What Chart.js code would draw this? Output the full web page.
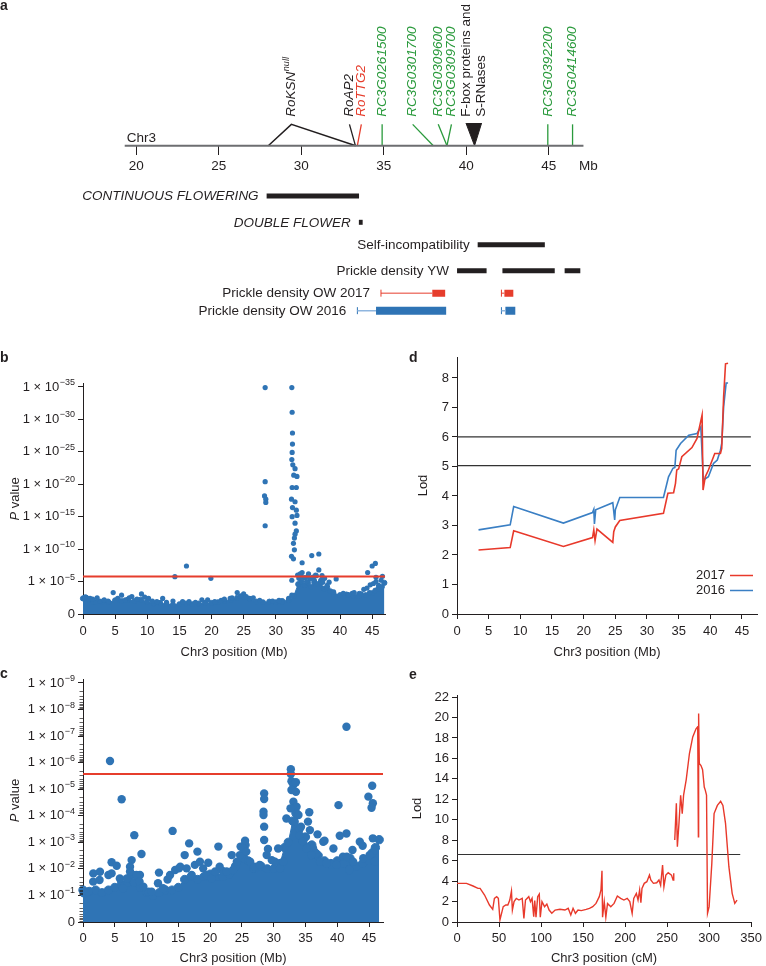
<!DOCTYPE html>
<html lang="en">
<head>
<meta charset="UTF-8" />
<title>Chr3 mapping figure</title>
<script src="https://cdn.jsdelivr.net/npm/chart.js"></script>
<style>
  body { margin: 0; background: #fff; font-family: 'Liberation Sans', Arial, sans-serif; }
  #fig { position: relative; width: 766px; height: 966px; overflow: hidden; }
  #fig canvas { position: absolute; }
  .tag { position: absolute; font-weight: bold; font-size: 14px; line-height: 14px; color: #231f20; }
</style>
</head>
<body>
<div id="fig">
  <canvas id="chartA" width="766" height="335" style="left:0;top:0"></canvas>
  <canvas id="chartB" width="390" height="325" style="left:0;top:340px"></canvas>
  <canvas id="chartC" width="390" height="301" style="left:0;top:665px"></canvas>
  <canvas id="chartD" width="386" height="325" style="left:380px;top:340px"></canvas>
  <canvas id="chartE" width="386" height="301" style="left:380px;top:665px"></canvas>
  <div class="tag" style="left:0;top:-2px">a</div>
  <div class="tag" style="left:0;top:350px">b</div>
  <div class="tag" style="left:0;top:666px">c</div>
  <div class="tag" style="left:409px;top:350px">d</div>
  <div class="tag" style="left:409px;top:667px">e</div>
</div>

<script>
const FONT = "'Liberation Sans', Arial, Helvetica, sans-serif";
const INK = '#231f20';
const BLUE = '#2f74b5';
const RED = '#e63d2c';
const GREEN = '#2a9a3c';

// ---------- panel a: physical map of Chr3 (Mb)
const mapTicks = [20, 25, 30, 35, 40, 45];
const mapUnitAt = 47.4;
const chrSpan = [19.3, 47.1];
const geneNames = ['RoAP2', 'RoTTG2', 'RC3G0261500', 'RC3G0301700', 'RC3G0309600', 'RC3G0309700', 'RC3G0392200', 'RC3G0414600'];
const geneBase = [33.28, 33.4, 34.9, 38.0, 38.83, 38.83, 44.94, 46.44];
const geneTop = [32.92, 33.64, 34.9, 36.75, 38.3, 39.1, 44.94, 46.44];
const geneColors = [INK, RED, GREEN, GREEN, GREEN, GREEN, GREEN, GREEN];
const ksnInsertion = [28.0, 29.4, 33.3];
const fboxEdges = [39.98, 40.93];
const fboxApex = 40.5;

const traitNames = ['CONTINUOUS FLOWERING', 'DOUBLE FLOWER', 'Self-incompatibility', 'Prickle density YW', 'Prickle density OW 2017', 'Prickle density OW 2016'];
const traitItalic = [true, true, false, false, false, false];
const traitBars = [
  [[27.9, 33.5]],
  [[33.49, 33.72]],
  [[40.69, 44.76]],
  [[39.44, 41.23], [42.19, 45.36], [45.96, 46.91]]
];
const ow2017Support = [[34.83, 37.94], [42.13, 42.31]];
const ow2017Core = [[37.94, 38.72], [42.31, 42.85]];
const ow2016Support = [[33.4, 34.53], [42.13, 42.37]];
const ow2016Core = [[34.53, 38.78], [42.37, 42.97]];

// ---------- panel b: GWAS, P value as -log10
const bTicks = [0, 5, 10, 15, 20, 25, 30, 35];
const mbTicks = [0, 5, 10, 15, 20, 25, 30, 35, 40, 45];
const bThreshold = 5.77;
const bBandPos = [0, 0.5, 1, 1.5, 2, 3, 4, 5, 6, 7, 8, 9, 10, 11, 12, 13, 14, 15, 16, 17, 18, 19, 20, 21, 22, 23, 24, 25, 26, 27, 28, 29, 30, 31, 32, 32.8, 33.5, 34, 34.5, 35, 35.5, 36, 36.5, 37, 37.5, 38, 38.5, 39, 40, 41, 42, 43, 44, 45, 45.5, 46, 46.5, 46.9];
const bBandLogP = [2.4, 2.5, 2.2, 1.9, 1.8, 1.9, 1.8, 2.1, 2.0, 2.2, 2.0, 2.2, 1.9, 1.6, 1.7, 1.5, 1.4, 1.5, 1.6, 1.5, 1.6, 1.7, 1.7, 1.8, 2.0, 2.2, 2.5, 2.6, 2.3, 1.9, 1.8, 1.9, 1.8, 2.0, 2.1, 2.8, 4.6, 5.0, 4.4, 4.8, 4.2, 4.9, 4.6, 4.8, 3.9, 4.1, 3.5, 3.1, 2.9, 3.0, 2.8, 3.1, 2.9, 3.2, 3.6, 3.9, 4.2, 4.8];
const bSnpPos = [28.35, 32.5, 32.55, 32.6, 32.6, 32.55, 32.5, 32.65, 33.0, 32.8, 33.3, 32.55, 33.2, 32.45, 33.0, 32.6, 33.2, 32.55, 33.3, 33.0, 33.2, 33.0, 32.9, 32.75, 32.9, 32.45, 32.75, 34.1, 35.6, 36.7, 34.1, 36.7, 32.5, 33.4,
  28.35, 28.25, 28.45, 28.45, 28.35,
  14.3, 16.1, 19.9, 39.4, 44.3, 45.0, 45.5, 45.6,
  43.7, 44.2, 44.7, 45.2, 45.6, 46.0, 46.4, 46.6,
  33.6, 34.0, 34.5, 35.0, 35.3, 35.8, 36.3, 37.2, 33.8, 35.1, 36.2, 37.0,
  4.7, 6.0, 7.6, 9.1, 10.2, 12.4, 3.9, 2.6, 18.5, 19.4, 24.0, 25.0, 22.9, 25.9, 15.5, 1.1, 31.0, 32.5, 41.9, 42.9, 0.4, 0.9, 37.6, 38.3,
  0.3, 1.5, 2.2, 3.3, 5.4, 6.6, 7.2, 8.4, 9.6, 10.8, 11.5, 13.0, 14.0, 16.5, 17.5, 20.5, 21.5, 22.0, 23.2, 24.5, 25.4, 26.5, 27.5, 29.5, 30.5, 32.0,
  39.0, 40.5, 41.3, 42.2, 43.3, 44.6, 38.0, 37.3, 36.0, 34.8];
const bSnpLogP = [34.9, 34.9, 31.1, 27.9, 26.2, 24.9, 23.8, 23.0, 22.4, 21.4, 21.2, 19.5, 19.5, 17.7, 17.3, 16.4, 16.0, 15.0, 15.2, 14.0, 12.8, 12.3, 11.7, 10.9, 9.9, 8.9, 8.5, 7.9, 9.0, 9.25, 6.4, 6.8, 5.2, 6.0,
  20.4, 18.2, 17.7, 17.2, 13.6,
  5.76, 7.4, 5.5, 5.4, 6.4, 7.4, 7.8, 5.65,
  3.8, 4.0, 4.5, 4.7, 5.0, 4.4, 5.2, 5.8,
  5.5, 5.7, 5.6, 5.8, 5.4, 5.7, 5.9, 5.9, 6.2, 6.2, 6.0, 5.2,
  3.3, 2.9, 2.7, 3.1, 2.4, 2.4, 2.0, 2.0, 2.2, 2.2, 3.3, 3.1, 2.4, 2.4, 1.9, 2.4, 1.9, 2.9, 3.2, 2.7, 2.6, 2.3, 5.5, 4.9,
  2.6, 2.3, 2.5, 2.2, 2.4, 2.2, 2.5, 2.3, 2.6, 2.0, 1.9, 1.8, 2.0, 1.9, 1.8, 1.9, 2.1, 2.3, 2.5, 2.8, 2.7, 2.5, 2.1, 2.0, 2.1, 2.4,
  3.4, 3.2, 3.0, 3.3, 3.1, 3.3, 4.4, 4.9, 5.2, 5.0];

// ---------- panel c: GWAS 2, P value as -log10
const cTicks = [0, 1, 2, 3, 4, 5, 6, 7, 8, 9];
const logMinor = [2, 3, 4, 5, 6, 7, 8, 9];
const cThreshold = 5.57;
const cBandPos = [0, 1, 2, 3, 4, 5, 6, 7, 7.6, 8, 9, 10, 11, 12, 13, 14, 15, 16, 17, 18, 19, 20, 21, 22, 23, 24, 25, 25.5, 26, 27, 28, 29, 30, 31, 31.7, 32.3, 33, 33.5, 34, 34.5, 35, 35.5, 36, 36.5, 37, 38, 39, 40, 41, 42, 43, 44, 45, 45.5, 46, 46.6];
const cBandLogP = [1.2, 1.15, 1.2, 1.1, 1.2, 1.3, 1.4, 1.5, 1.8, 1.5, 1.3, 1.1, 1.0, 1.1, 1.2, 1.2, 1.3, 1.6, 1.7, 1.6, 1.7, 1.8, 1.7, 1.7, 1.8, 2.1, 2.4, 2.9, 2.3, 2.0, 2.1, 2.0, 2.0, 2.2, 2.8, 3.0, 3.8, 4.1, 3.5, 3.1, 3.2, 2.8, 2.9, 2.6, 2.5, 2.3, 2.2, 2.3, 2.2, 2.4, 2.1, 2.2, 2.3, 2.6, 2.8, 3.1];
const cSnpPos = [4.25, 6.08, 41.45, 32.7, 32.7, 32.8, 33.1, 33.5, 32.8, 33.5, 33.1, 33.6, 32.65, 33.9, 33.3, 32.0, 34.3,
  28.5, 28.5, 28.4, 28.4, 28.5, 28.5, 45.5, 44.9, 45.6, 45.4, 40.2, 35.6, 35.4, 35.7, 36.9, 41.45, 37.8, 39.4, 40.4,
  8.07, 14.1, 9.2, 4.5, 5.3, 7.65, 1.62, 2.67, 16.7, 16.0, 18.0, 21.3, 23.4, 25.5, 24.8, 29.1, 30.7, 11.95, 13.3, 15.1,
  19.7, 21.96, 26.8, 43.55, 42.4, 38.0, 44.0, 45.6, 45.9, 36.2, 36.7, 39.1, 40.9, 41.9, 7.4, 8.96, 5.8, 10.3,
  0.16, 0.8, 1.6, 2.6, 4.0, 4.5, 6.3, 6.9, 7.4, 8.4, 8.9, 9.5, 10.8, 11.8, 12.6, 13.7, 14.5, 15.3, 16.3, 17.1, 17.6, 18.4, 18.9, 19.4, 20.2, 20.8, 21.5, 22.6, 23.6, 24.2, 24.7, 25.2, 25.7, 26.3, 27.0, 27.8, 28.9, 29.7, 30.2, 31.0, 31.5,
  34.1, 34.6, 35.2, 35.9, 37.3, 38.3, 39.9, 41.5, 42.5, 44.1, 45.1, 45.9];
const cSnpLogP = [6.06, 4.62, 7.35, 5.75, 5.57, 5.3, 5.16, 5.26, 4.97, 4.9, 4.53, 4.34, 4.28, 4.03, 3.78, 3.9, 3.59,
  4.84, 4.63, 4.15, 4.03, 3.59, 3.09, 5.13, 4.72, 4.47, 4.3, 4.4, 4.13, 3.78, 3.46, 3.3, 3.33, 3.02, 2.77, 3.25,
  3.27, 3.43, 2.56, 2.25, 2.12, 2.33, 1.83, 1.89, 2.96, 2.52, 2.65, 2.84, 2.52, 3.06, 2.84, 2.75, 2.77, 1.86, 1.6, 2.02,
  2.23, 1.92, 2.02, 3.02, 2.71, 3.06, 2.87, 3.15, 2.71, 2.77, 2.58, 2.15, 2.46, 1.96, 2.08, 1.77, 1.64, 1.14,
  1.08, 1.14, 1.52, 1.58, 1.77, 1.83, 1.27, 1.64, 1.9, 1.77, 1.52, 1.33, 1.14, 1.46, 1.27, 1.77, 1.96, 2.08, 2.02, 1.77, 2.15, 2.27, 2.02, 1.77, 1.64, 1.9, 2.08, 1.9, 1.96, 2.27, 2.52, 2.77, 2.65, 2.27, 2.08, 2.15, 2.52, 2.33, 2.27, 2.02, 2.27,
  3.27, 3.02, 2.77, 2.52, 2.27, 2.21, 2.15, 2.46, 2.27, 2.4, 2.52, 2.27];

// ---------- panel d: QTL scans (Mb)
const lodTicksD = [0, 1, 2, 3, 4, 5, 6, 7, 8];
const dThresholds = [6.0, 5.03];
const dThresholdEnd = 46.4;
const lod2017Pos = [3.4, 8.4, 8.95, 16.8, 21.4, 21.6, 21.8, 22.1, 24.6, 24.75, 25.0, 25.7, 32.6, 33.3, 34.2, 34.5, 34.7, 35.0, 35.5, 37.1, 37.9, 38.7, 38.85, 39.2, 39.7, 40.7, 41.6, 41.8, 42.1, 42.4, 42.8];
const lod2017 = [2.17, 2.25, 2.82, 2.29, 2.59, 2.85, 2.49, 2.88, 2.43, 2.79, 2.95, 3.17, 3.41, 4.09, 4.11, 4.43, 4.88, 4.92, 5.33, 5.64, 5.95, 6.74, 4.2, 4.65, 4.88, 5.44, 5.44, 5.61, 7.36, 8.48, 8.5];
const lod2016Pos = [3.4, 8.4, 8.95, 16.8, 21.4, 21.6, 21.7, 21.9, 24.6, 24.9, 25.0, 25.7, 32.6, 33.4, 34.1, 34.4, 34.6, 35.3, 36.6, 37.9, 38.5, 38.9, 39.7, 40.5, 41.1, 41.6, 41.8, 42.1, 42.5, 42.8];
const lod2016 = [2.85, 3.02, 3.64, 3.08, 3.44, 3.55, 3.05, 3.53, 3.77, 3.19, 3.53, 3.95, 3.95, 4.65, 4.94, 4.97, 5.55, 5.78, 6.06, 6.12, 6.34, 4.54, 4.65, 5.1, 5.22, 5.55, 5.78, 7.02, 7.83, 7.83];

// ---------- panel e: QTL scan (cM); null splits the two linkage blocks
const lodTicksE = [0, 2, 4, 6, 8, 10, 12, 14, 16, 18, 20, 22];
const cmTicks = [0, 50, 100, 150, 200, 250, 300, 350];
const eThreshold = 6.6;
const eThresholdEnd = 337;
const ePos = [0, 11.3, 19.1, 25.0, 27.5, 32.8, 38.6, 42.5, 44.5, 47.2, 49.2, 51.1, 55.0, 58.1, 60.5, 62.8, 64.8, 65.9, 67.9, 70.6, 73.7, 77.6, 79.6, 81.5, 85.4, 87.4, 89.3, 91.3, 92.5, 94.0, 96.0, 97.9, 99.1, 101.1, 104.2, 106.9, 109.6, 112.8, 116.7, 122.5, 128.4, 132.3, 135.4, 138.1, 140.9, 144.0, 147.9, 153.7, 157.6, 161.5, 165.4, 169.3, 171.3, 172.5, 173.2, 175.2, 177.1, 179.1, 183.0, 186.9, 190.8, 194.7, 198.6, 202.5, 205.6, 208.4, 210.3, 213.4, 215.4, 217.3, 218.8, 220.1, 222.8, 225.9, 229.0, 230.6, 233.7, 237.6, 240.3, 242.3, 244.6, 246.2, 248.5, 251.3, 255.2, 257.1, 257.9,
  258.5,
  259.1, 261.0, 262.2, 264.1, 266.1, 268.0, 269.6, 272.7, 276.6, 280.5, 284.4, 286.4, 287.2, 287.5, 288.3, 290.3, 292.2, 294.2, 295.4, 296.9, 298.1, 300.0, 303.2, 305.9, 309.8, 313.7, 316.4, 319.5, 323.5, 327.4, 330.5, 333.2];
const eLod = [3.78, 3.78, 3.52, 3.29, 3.29, 2.64, 1.66, 1.24, 2.31, 2.48, 2.31, 0.2, 1.5, 1.66, 1.66, 2.15, 3.03, 1.17, 1.99, 2.31, 2.15, 2.31, 0.36, 2.15, 2.48, 1.99, 2.31, 0.52, 2.1, 0.46, 2.48, 2.74, 0.46, 1.99, 1.5, 1.76, 1.17, 0.85, 1.17, 1.24, 1.17, 1.34, 0.68, 1.34, 0.85, 1.17, 1.11, 1.24, 1.34, 1.5, 1.82, 2.48, 3.13, 5.02, 0.46, 1.99, 0.46, 1.82, 1.5, 1.82, 2.54, 2.31, 2.15, 2.31, 1.99, 0.85, 2.31, 2.8, 2.15, 3.13, 1.9, 3.29, 3.78, 3.94, 4.59, 4.11, 3.78, 3.84, 4.11, 3.6, 5.57, 3.45, 4.59, 4.82, 4.59, 4.11, 4.76,
  null,
  8.02, 11.6, 7.36, 9.64, 12.4, 10.6, 12.4, 13.9, 16.5, 18.1, 18.9, 19.1, 8.34, 20.4, 15.5, 15.3, 14.9, 13.2, 12.9, 12.4, 0.85, 1.5, 5.73, 10.6, 11.4, 11.8, 11.4, 9.64, 5.41, 2.8, 1.82, 2.15];

// ---------- helpers
function xyPairs(xs, ys) { return xs.map((x, i) => ({ x, y: ys[i] })); }
function segments(list, y) {
  const out = [];
  list.forEach(([a, b], i) => {
    if (i) out.push({ x: (a + list[i - 1][1]) / 2, y: null });
    out.push({ x: a, y }, { x: b, y });
  });
  return out;
}
function lineSet(data, color, width, extra) {
  return Object.assign({ data, showLine: true, borderColor: color, backgroundColor: color, borderWidth: width, pointRadius: 0, tension: 0, fill: false, spanGaps: false, borderCapStyle: 'butt' }, extra || {});
}
function axis(opt) {
  return {
    type: 'linear', min: opt.min, max: opt.max,
    border: { color: INK, width: 1 },
    grid: { drawOnChartArea: false, drawTicks: true, tickLength: 5, color: INK, tickColor: INK },
    ticks: { color: INK, font: { family: FONT, size: 13 }, padding: opt.pad, autoSkip: false, maxRotation: 0, callback: opt.blank ? () => '' : (v => v) },
    afterBuildTicks: s => { s.ticks = opt.ticks.map(v => ({ value: v })); },
    afterFit: s => { if (opt.x) s.height = opt.fit; else s.width = opt.fit; },
    title: opt.title ? { display: true, text: opt.title, color: INK, font: { family: FONT, size: 13 }, padding: { top: 0, bottom: opt.titlePad } } : { display: false }
  };
}

// y tick labels written as 1 x 10^-n
const sciTicks = {
  id: 'sciTicks',
  afterDraw(chart, args, o) {
    if (!o.on) return;
    const s = chart.scales.y, ctx = chart.ctx, right = s.right - 8;
    ctx.save();
    ctx.fillStyle = INK;
    ctx.textBaseline = 'middle';
    s.ticks.forEach(t => {
      const y = s.getPixelForValue(t.value);
      if (t.value === 0) {
        ctx.font = '13px ' + FONT; ctx.textAlign = 'right';
        ctx.fillText('0', right, y);
        return;
      }
      const sup = '\u2212' + t.value;
      ctx.font = '9px ' + FONT;
      const sw = ctx.measureText(sup).width;
      ctx.textAlign = 'left';
      ctx.fillText(sup, right - sw, y - 4.5);
      ctx.font = '13px ' + FONT; ctx.textAlign = 'right';
      ctx.fillText('1 \u00d7 10', right - sw - 0.5, y);
    });
    if (o.minor) {
      ctx.strokeStyle = INK; ctx.lineWidth = 0.7;
      ctx.beginPath();
      s.ticks.forEach(t => {
        if (t.value === 0) return;
        o.minor.forEach(k => {
          const y = Math.round(s.getPixelForValue(t.value - Math.log10(k))) + 0.5;
          ctx.moveTo(s.right - 3.5, y); ctx.lineTo(s.right, y);
        });
      });
      ctx.stroke();
    }
    ctx.restore();
  }
};

// rotated y title, optional italic lead letter
const yTitle = {
  id: 'yTitle',
  afterDraw(chart, args, o) {
    if (!o.text) return;
    const ctx = chart.ctx, ca = chart.chartArea;
    ctx.save();
    ctx.translate(o.x, (ca.top + ca.bottom) / 2);
    ctx.rotate(-Math.PI / 2);
    ctx.fillStyle = INK; ctx.textBaseline = 'middle'; ctx.textAlign = 'left';
    ctx.font = 'italic 13px ' + FONT;
    const lw = o.lead ? ctx.measureText(o.lead).width : 0;
    ctx.font = '13px ' + FONT;
    const rw = ctx.measureText(o.text).width;
    let x0 = -(lw + rw) / 2;
    if (o.lead) { ctx.font = 'italic 13px ' + FONT; ctx.fillText(o.lead, x0, 0); x0 += lw; ctx.font = '13px ' + FONT; }
    ctx.fillText(o.text, x0, 0);
    ctx.restore();
  }
};

// legend of panel d: label then line sample, bottom right of the plot
const sideLegend = {
  id: 'sideLegend',
  afterDraw(chart, args, o) {
    if (!o.items) return;
    const ctx = chart.ctx, ca = chart.chartArea;
    ctx.save();
    ctx.font = '13px ' + FONT; ctx.textBaseline = 'middle'; ctx.textAlign = 'right';
    o.items.forEach((i, k) => {
      const ds = chart.data.datasets[i];
      const y = ca.bottom - 39 + k * 15;
      ctx.fillStyle = INK;
      ctx.fillText(ds.label, ca.right - 32, y);
      ctx.strokeStyle = ds.borderColor; ctx.lineWidth = 1.5;
      ctx.beginPath(); ctx.moveTo(ca.right - 27, y + 0.5); ctx.lineTo(ca.right - 4, y + 0.5); ctx.stroke();
    });
    ctx.restore();
  }
};

// text of panel a: gene names, trait names, chromosome name
const rowY = [-2.36, -3.59, -4.64, -5.86, -6.91, -7.73];
const mapText = {
  id: 'mapText',
  afterDatasetsDraw(chart) {
    const ctx = chart.ctx, xs = chart.scales.x, ys = chart.scales.y;
    const labelBase = ys.getPixelForValue(1.36);
    ctx.save();
    ctx.textBaseline = 'middle'; ctx.textAlign = 'left';
    function vertical(text, mb, color, italic, sup) {
      ctx.save();
      ctx.translate(xs.getPixelForValue(mb), labelBase);
      ctx.rotate(-Math.PI / 2);
      ctx.fillStyle = color;
      ctx.font = (italic ? 'italic ' : '') + '13.5px ' + FONT;
      ctx.fillText(text, 0, 0);
      if (sup) {
        const w = ctx.measureText(text).width;
        ctx.font = 'italic 9px ' + FONT;
        ctx.fillText(sup, w + 0.5, -4.5);
      }
      ctx.restore();
    }
    geneNames.forEach((g, i) => vertical(g, geneTop[i], geneColors[i], true));
    vertical('RoKSN', ksnInsertion[1], INK, true, 'null');
    vertical('F-box proteins and', fboxEdges[0], INK, false);
    vertical('S-RNases', fboxEdges[1], INK, false);

    ctx.fillStyle = INK;
    ctx.font = '13.5px ' + FONT;
    ctx.textBaseline = 'alphabetic';
    ctx.fillText('Chr3', xs.getPixelForValue(chrSpan[0]) + 2, ys.getPixelForValue(0) - 4);

    ctx.textBaseline = 'middle'; ctx.textAlign = 'right';
    const starts = traitBars.map(b => b[0][0]).concat([ow2017Support[0][0], ow2016Support[0][0]]);
    traitNames.forEach((t, i) => {
      ctx.font = (traitItalic[i] ? 'italic ' : '') + '13.5px ' + FONT;
      const gap = i >= 4 ? 11 : 8;
      ctx.fillText(t, xs.getPixelForValue(starts[i]) - gap, ys.getPixelForValue(rowY[i]) + 0.5);
    });
    ctx.restore();
  }
};

Chart.defaults.font.family = FONT;
Chart.defaults.color = INK;
const common = { responsive: false, animation: false, devicePixelRatio: 1, events: [] };

// ---------- chart a
const aSets = [];
aSets.push(lineSet([{ x: chrSpan[0], y: 0 }, { x: chrSpan[1], y: 0 }], '#6d6e71', 2));
aSets.push(lineSet(ksnInsertion.map((x, i) => ({ x, y: i === 1 ? 1 : 0 })), INK, 1.5));
geneNames.forEach((g, i) => aSets.push(lineSet([{ x: geneBase[i], y: 0 }, { x: geneTop[i], y: 1 }], geneColors[i], 1.3)));
aSets.push(lineSet([{ x: fboxEdges[0], y: 1.06 }, { x: fboxApex, y: 0 }, { x: fboxEdges[1], y: 1.06 }], INK, 1, { fill: { value: 1.06 } }));
traitBars.forEach((bars, i) => aSets.push(lineSet(segments(bars, rowY[i]), INK, 5)));
aSets.push(lineSet(segments(ow2017Support, rowY[4]), RED, 1));
aSets.push(lineSet(segments(ow2017Core, rowY[4]), RED, 7));
aSets.push(lineSet(segments(ow2016Support, rowY[5]), '#8fb6df', 1.5));
aSets.push(lineSet(segments(ow2016Core, rowY[5]), BLUE, 8));
aSets.push({ data: ow2017Support.map(s => ({ x: s[0], y: rowY[4] })), showLine: false, pointStyle: 'line', rotation: 90, pointRadius: 3.5, borderColor: RED, borderWidth: 1 });
aSets.push({ data: ow2016Support.map(s => ({ x: s[0], y: rowY[5] })), showLine: false, pointStyle: 'line', rotation: 90, pointRadius: 3.5, borderColor: BLUE, borderWidth: 1 });

new Chart(document.getElementById('chartA'), {
  type: 'scatter',
  data: { datasets: aSets },
  options: Object.assign({}, common, {
    layout: { padding: 0 },
    plugins: { legend: { display: false }, tooltip: { enabled: false } },
    scales: {
      x: {
        type: 'linear', min: 12.045, max: 57.86, position: { y: 0 },
        border: { display: false },
        grid: { drawOnChartArea: false, tickLength: 9, color: INK, tickColor: c => (c.tick && c.tick.value === mapUnitAt ? 'rgba(0,0,0,0)' : INK) },
        ticks: { color: INK, font: { family: FONT, size: 13.5 }, padding: 4, autoSkip: false, maxRotation: 0, callback: v => (v === mapUnitAt ? 'Mb' : v) },
        afterBuildTicks: s => { s.ticks = mapTicks.concat([mapUnitAt]).map(v => ({ value: v })); }
      },
      y: { type: 'linear', display: false, min: -8.636, max: 6.591 }
    }
  }),
  plugins: [mapText]
});

// ---------- chart b
new Chart(document.getElementById('chartB'), {
  type: 'scatter',
  data: {
    datasets: [
      lineSet([{ x: 0, y: bThreshold }, { x: 47, y: bThreshold }], RED, 2),
      { data: xyPairs(bSnpPos, bSnpLogP), pointRadius: 2.6, backgroundColor: BLUE, borderWidth: 0, clip: false },
      lineSet(xyPairs(bBandPos, bBandLogP), BLUE, 1, { fill: 'origin', pointRadius: 2.6, clip: false })
    ]
  },
  options: Object.assign({}, common, {
    layout: { padding: { top: 43.7, right: 5, left: 0, bottom: 0 } },
    plugins: { legend: { display: false }, tooltip: { enabled: false }, sciTicks: { on: true }, yTitle: { lead: 'P', text: ' value', x: 15 } },
    scales: {
      x: axis({ x: true, min: 0, max: 47, ticks: mbTicks, fit: 51, pad: 5, title: 'Chr3 position (Mb)', titlePad: 5 }),
      y: axis({ min: 0, max: 35.5, ticks: bTicks, fit: 83, pad: 3, blank: true })
    }
  }),
  plugins: [sciTicks, yTitle]
});

// ---------- chart c
new Chart(document.getElementById('chartC'), {
  type: 'scatter',
  data: {
    datasets: [
      lineSet([{ x: 0, y: cThreshold }, { x: 47.2, y: cThreshold }], RED, 2),
      { data: xyPairs(cSnpPos, cSnpLogP), pointRadius: 4.2, backgroundColor: BLUE, borderWidth: 0, clip: false },
      lineSet(xyPairs(cBandPos, cBandLogP), BLUE, 1, { fill: 'origin', pointRadius: 4.2, clip: false })
    ]
  },
  options: Object.assign({}, common, {
    layout: { padding: { top: 14, right: 7, left: 0, bottom: 0 } },
    plugins: { legend: { display: false }, tooltip: { enabled: false }, sciTicks: { on: true, minor: logMinor }, yTitle: { lead: 'P', text: ' value', x: 15 } },
    scales: {
      x: axis({ x: true, min: 0, max: 47.2, ticks: mbTicks, fit: 44, pad: 4, title: 'Chr3 position (Mb)', titlePad: 0 }),
      y: axis({ min: 0, max: 9.15, ticks: cTicks, fit: 83, pad: 3, blank: true })
    }
  }),
  plugins: [sciTicks, yTitle]
});

// ---------- chart d
new Chart(document.getElementById('chartD'), {
  type: 'scatter',
  data: {
    datasets: [
      lineSet(xyPairs(lod2017Pos, lod2017), '#e8392b', 1.6, { label: '2017' }),
      lineSet(xyPairs(lod2016Pos, lod2016), '#3a7fc4', 1.6, { label: '2016' }),
      lineSet([{ x: 0, y: dThresholds[0] }, { x: dThresholdEnd, y: dThresholds[0] }], '#333333', 1.2),
      lineSet([{ x: 0, y: dThresholds[1] }, { x: dThresholdEnd, y: dThresholds[1] }], '#333333', 1.2)
    ]
  },
  options: Object.assign({}, common, {
    layout: { padding: { top: 17, right: 9, left: 0, bottom: 0 } },
    plugins: { legend: { display: false }, tooltip: { enabled: false }, yTitle: { text: 'Lod', x: 43 }, sideLegend: { items: [0, 1] } },
    scales: {
      x: axis({ x: true, min: 0, max: 47.37, ticks: mbTicks, fit: 51, pad: 5, title: 'Chr3 position (Mb)', titlePad: 5 }),
      y: axis({ min: 0, max: 8.71, ticks: lodTicksD, fit: 77, pad: 3 })
    }
  }),
  plugins: [yTitle, sideLegend]
});

// ---------- chart e
new Chart(document.getElementById('chartE'), {
  type: 'scatter',
  data: {
    datasets: [
      lineSet(xyPairs(ePos, eLod), '#e8392b', 1.4),
      lineSet([{ x: 0, y: eThreshold }, { x: eThresholdEnd, y: eThreshold }], '#333333', 1.2)
    ]
  },
  options: Object.assign({}, common, {
    layout: { padding: { top: 30, right: 11, left: 0, bottom: 0 } },
    plugins: { legend: { display: false }, tooltip: { enabled: false }, yTitle: { text: 'Lod', x: 37 } },
    scales: {
      x: axis({ x: true, min: 0, max: 350, ticks: cmTicks, fit: 44, pad: 4, title: 'Chr3 position (cM)', titlePad: 0 }),
      y: axis({ min: 0, max: 22.2, ticks: lodTicksE, fit: 77, pad: 3 })
    }
  }),
  plugins: [yTitle]
});
</script>
</body>
</html>
